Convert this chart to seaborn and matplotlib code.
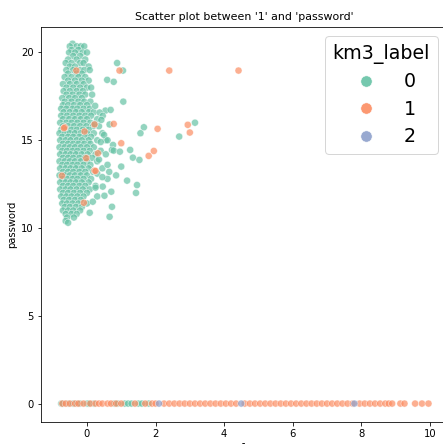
import matplotlib
matplotlib.use("Agg")
import matplotlib.pyplot as plt
import seaborn as sns
import pandas as pd

# ---- cluster 0 (main dense cluster, upper left) ----
c0_x = [
    -0.42,
    -0.50, -0.30, -0.18, -0.08,
    -0.45, -0.25,
    -0.52, -0.35, -0.12, 0.00,
    -0.40, -0.20,
    -0.55, -0.30, -0.05,
    -0.62, -0.45, -0.20, -0.10,
    -0.50, -0.35, 0.05,
    -0.60, -0.40, -0.20, -0.08, 0.08,
    -0.55, -0.30, -0.15,
    -0.65, -0.45, -0.25, -0.05,
    -0.55, -0.35, -0.15, 0.05,
    -0.70, -0.50, -0.30, -0.10,
    -0.60, -0.40, -0.20, 0.00, 0.12,
    -0.68, -0.50, -0.30, -0.12,
    -0.60, -0.42, -0.22, -0.05, 0.15,
    -0.72, -0.52, -0.35, -0.15,
    -0.65, -0.45, -0.25, -0.08, 0.10,
    -0.70, -0.55, -0.38, -0.20, 0.00,
    -0.75, -0.60, -0.42, -0.28, -0.10, 0.08,
    -0.68, -0.50, -0.32, -0.15, 0.05, 0.20,
    -0.75, -0.58, -0.40, -0.22, -0.05, 0.12,
    -0.70, -0.52, -0.35, -0.18, 0.00, 0.30,
    -0.78, -0.60, -0.45, -0.28, -0.10, 0.10,
    -0.70, -0.55, -0.38, -0.20, -0.02, 0.18, 0.35,
    -0.75, -0.60, -0.45, -0.30, -0.12, 0.05,
    -0.80, -0.65, -0.50, -0.35, -0.18, 0.00, 0.20, 0.45,
    -0.72, -0.55, -0.40, -0.22, -0.05, 0.12,
    -0.78, -0.62, -0.48, -0.30, -0.15, 0.05, 0.30, 0.55,
    -0.70, -0.55, -0.40, -0.25, -0.08, 0.10,
    -0.80, -0.65, -0.50, -0.35, -0.18, 0.00, 0.20,
    -0.72, -0.58, -0.42, -0.28, -0.10, 0.08, 0.40,
    -0.78, -0.62, -0.48, -0.32, -0.15, 0.02, 0.25,
    -0.70, -0.55, -0.40, -0.22, -0.05, 0.15,
    -0.80, -0.65, -0.50, -0.35, -0.18, 0.00, 0.30,
    -0.72, -0.58, -0.42, -0.28, -0.10, 0.10,
    -0.78, -0.62, -0.48, -0.32, -0.15, 0.05, 0.45,
    -0.70, -0.55, -0.40, -0.22, -0.05, 0.18,
    -0.80, -0.65, -0.50, -0.35, -0.18, 0.00,
    -0.72, -0.58, -0.42, -0.28, -0.10, 0.12, 0.60,
    -0.78, -0.62, -0.48, -0.32, -0.15, 0.05,
    -0.70, -0.55, -0.40, -0.22, -0.05, 0.25,
    -0.78, -0.62, -0.48, -0.30, -0.12, 0.08,
    -0.70, -0.55, -0.38, -0.20, 0.00,
    -0.75, -0.60, -0.45, -0.28, -0.10, 0.30,
    -0.68, -0.52, -0.35, -0.18,
    -0.72, -0.58, -0.42, -0.25, 0.00,
    -0.65, -0.50, -0.32, -0.15,
    -0.70, -0.55, -0.40, -0.20,
    -0.62, -0.45, -0.30,
    -0.58, -0.38,
    -0.62,
    -0.55,
    # scattered to the right
    0.88, 1.05, 0.59, 0.78, 1.06, 0.24, 0.54, 0.69, 0.37, 0.46, 0.42, 0.22,
    0.66, 1.66, 1.56, 3.15, 2.69, 1.26, 1.34, 1.53, 0.76, 0.73, 0.78, 0.96,
    1.00, 1.17, 1.46, 1.43, 0.46, 0.51, 0.71, 0.73, 0.66, 0.08, 0.17,
    0.50, 0.60, 0.40, 0.55, 0.35, 0.60, 0.30, 0.45, 0.65, 0.85, 0.25,
    # along the zero line
    -0.75, -0.70, -0.55, -0.40, -0.30, -0.20, 0.00, 0.05, 0.20, 0.80,
    0.90, 1.10, 1.20, 1.30, 1.50, 1.60, 1.80,
]
c0_y = [
    20.5,
    20.35, 20.35, 20.35, 20.35,
    20.15, 20.15,
    20.0, 20.0, 20.0, 20.0,
    19.8, 19.8,
    19.6, 19.6, 19.6,
    19.4, 19.4, 19.4, 19.4,
    19.2, 19.2, 19.2,
    19.0, 19.0, 19.0, 19.0, 19.0,
    18.8, 18.8, 18.8,
    18.6, 18.6, 18.6, 18.6,
    18.4, 18.4, 18.4, 18.4,
    18.2, 18.2, 18.2, 18.2,
    18.0, 18.0, 18.0, 18.0, 18.0,
    17.8, 17.8, 17.8, 17.8,
    17.6, 17.6, 17.6, 17.6, 17.6,
    17.4, 17.4, 17.4, 17.4,
    17.2, 17.2, 17.2, 17.2, 17.2,
    17.0, 17.0, 17.0, 17.0, 17.0,
    16.8, 16.8, 16.8, 16.8, 16.8, 16.8,
    16.6, 16.6, 16.6, 16.6, 16.6, 16.6,
    16.4, 16.4, 16.4, 16.4, 16.4, 16.4,
    16.2, 16.2, 16.2, 16.2, 16.2, 16.2,
    16.0, 16.0, 16.0, 16.0, 16.0, 16.0,
    15.8, 15.8, 15.8, 15.8, 15.8, 15.8, 15.8,
    15.6, 15.6, 15.6, 15.6, 15.6, 15.6,
    15.4, 15.4, 15.4, 15.4, 15.4, 15.4, 15.4, 15.4,
    15.2, 15.2, 15.2, 15.2, 15.2, 15.2,
    15.0, 15.0, 15.0, 15.0, 15.0, 15.0, 15.0, 15.0,
    14.8, 14.8, 14.8, 14.8, 14.8, 14.8,
    14.6, 14.6, 14.6, 14.6, 14.6, 14.6, 14.6,
    14.4, 14.4, 14.4, 14.4, 14.4, 14.4, 14.4,
    14.2, 14.2, 14.2, 14.2, 14.2, 14.2, 14.2,
    14.0, 14.0, 14.0, 14.0, 14.0, 14.0,
    13.8, 13.8, 13.8, 13.8, 13.8, 13.8, 13.8,
    13.6, 13.6, 13.6, 13.6, 13.6, 13.6,
    13.4, 13.4, 13.4, 13.4, 13.4, 13.4, 13.4,
    13.2, 13.2, 13.2, 13.2, 13.2, 13.2,
    13.0, 13.0, 13.0, 13.0, 13.0, 13.0,
    12.8, 12.8, 12.8, 12.8, 12.8, 12.8, 12.8,
    12.6, 12.6, 12.6, 12.6, 12.6, 12.6,
    12.4, 12.4, 12.4, 12.4, 12.4, 12.4,
    12.2, 12.2, 12.2, 12.2, 12.2, 12.2,
    12.0, 12.0, 12.0, 12.0, 12.0,
    11.8, 11.8, 11.8, 11.8, 11.8, 11.8,
    11.6, 11.6, 11.6, 11.6,
    11.4, 11.4, 11.4, 11.4, 11.4,
    11.2, 11.2, 11.2, 11.2,
    11.0, 11.0, 11.0, 11.0,
    10.8, 10.8, 10.8,
    10.6, 10.6,
    10.4,
    10.3,
    19.4, 18.97, 18.44, 18.33, 17.2, 16.96, 16.69, 16.73, 16.58, 16.39, 16.16, 15.93,
    15.9, 15.74, 15.4, 16.0, 15.21, 14.45, 14.01, 13.88, 14.73, 14.45, 14.41, 14.35,
    13.5, 12.7, 12.45, 12.0, 12.36, 11.84, 12.07, 11.21, 10.64, 10.87, 11.5,
    15.3, 15.0, 14.9, 14.2, 13.9, 13.6, 13.1, 12.9, 13.2, 13.0, 12.3,
    0, 0, 0, 0, 0, 0, 0, 0, 0, 0,
    0, 0, 0, 0, 0, 0, 0,
]

# ---- cluster 1 ----
c1_x = [
    -0.31, 0.95, 2.40, 4.42, 0.78, 2.06, 2.94, 3.00, 1.00, 1.95, 1.80,
    0.22, 0.25, -0.09, -0.65, 0.22, 0.32, -0.73, -0.02, -0.07, -0.67,
    -0.72, -0.62, -0.50, -0.35, -0.25, -0.10, 0.10, 0.25, 0.35, 0.45,
    0.60, 0.70, 0.85, 1.00, 1.40, 1.70, 1.90, 2.00, 2.25, 2.40, 2.55,
    2.70, 2.85, 3.00, 3.15, 3.30, 3.45, 3.60, 3.75, 3.90, 4.05, 4.20,
    4.35, 4.60, 4.75, 4.90, 5.05, 5.20, 5.35, 5.50, 5.65, 5.80, 5.95,
    6.10, 6.25, 6.40, 6.55, 6.70, 6.85, 7.00, 7.15, 7.30, 7.45, 7.60,
    7.75, 7.95, 8.10, 8.25, 8.40, 8.55, 8.70, 8.80, 8.90, 9.14, 9.26,
    9.57, 9.77, 9.96,
]
c1_y = [
    18.97, 18.97, 18.97, 18.97, 15.93, 15.65, 15.88, 15.44, 14.83, 14.39, 14.11,
    13.27, 13.25, 11.44, 15.74, 15.9, 14.26, 12.98, 13.98, 15.5, 15.69,
    0, 0, 0, 0, 0, 0, 0, 0, 0, 0,
    0, 0, 0, 0, 0, 0, 0, 0, 0, 0, 0,
    0, 0, 0, 0, 0, 0, 0, 0, 0, 0, 0,
    0, 0, 0, 0, 0, 0, 0, 0, 0, 0, 0,
    0, 0, 0, 0, 0, 0, 0, 0, 0, 0, 0,
    0, 0, 0, 0, 0, 0, 0, 0, 0, 0, 0,
    0, 0, 0,
]

# ---- cluster 2 ----
c2_x = [2.10, 4.50, 7.80]
c2_y = [0, 0, 0]

df = pd.concat([
    pd.DataFrame({"1": c0_x, "password": c0_y, "km3_label": 0}),
    pd.DataFrame({"1": c1_x, "password": c1_y, "km3_label": 1}),
    pd.DataFrame({"1": c2_x, "password": c2_y, "km3_label": 2}),
], ignore_index=True)

W, H, DPI = 443, 444, 72
fig = plt.figure(figsize=(W / DPI, H / DPI), dpi=DPI)
ax = fig.add_axes([41 / W, (H - 422) / H, (447 - 41) / W, (422 - 26.5) / H])

sns.scatterplot(data=df, x="1", y="password", hue="km3_label",
                palette="Set2", alpha=0.7, s=50, ax=ax)

ax.set_xlim(-1.34, 10.5)
ax.set_ylim(-1.05, 21.48)
ax.set_xticks([0, 2, 4, 6, 8, 10])
ax.set_yticks([0, 5, 10, 15, 20])
ax.set_title("Scatter plot between '1' and 'password'", fontsize=11)
ax.set_xlabel("1", fontsize=10)
ax.set_ylabel("password", fontsize=10)

sns.move_legend(ax, "upper right", fontsize=19, title_fontsize=19,
                markerscale=1.6, title="km3_label", labelspacing=0.45,
                handletextpad=1.0)
leg = ax.get_legend()
for h in leg.legend_handles:
    h.set_alpha(0.9)

fig.savefig("out.png", dpi=DPI)
